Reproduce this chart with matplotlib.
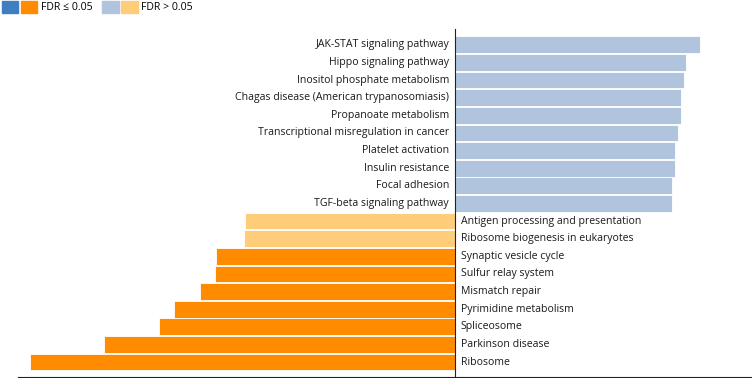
import matplotlib
matplotlib.use("Agg")
import matplotlib.pyplot as plt
from matplotlib.patches import Patch
from matplotlib.legend_handler import HandlerTuple

plt.rcParams['font.family'] = ['Open Sans', 'DejaVu Sans']

# pathways, top to bottom
pathways = [
    "JAK-STAT signaling pathway",
    "Hippo signaling pathway",
    "Inositol phosphate metabolism",
    "Chagas disease (American trypanosomiasis)",
    "Propanoate metabolism",
    "Transcriptional misregulation in cancer",
    "Platelet activation",
    "Insulin resistance",
    "Focal adhesion",
    "TGF-beta signaling pathway",
    "Antigen processing and presentation",
    "Ribosome biogenesis in eukaryotes",
    "Synaptic vesicle cycle",
    "Sulfur relay system",
    "Mismatch repair",
    "Pyrimidine metabolism",
    "Spliceosome",
    "Parkinson disease",
    "Ribosome",
]
scores = [1.68, 1.59, 1.57, 1.55, 1.55, 1.53, 1.51, 1.51, 1.49, 1.49,
          -1.44, -1.45, -1.64, -1.65, -1.75, -1.93, -2.03, -2.41, -2.92]
significant = [False] * 12 + [True] * 7

DARK_BLUE = "#3f7fbf"
ORANGE = "#ff8c00"
LIGHT_BLUE = "#b0c4de"
LIGHT_ORANGE = "#ffcc7a"

fig = plt.figure(figsize=(7.52, 3.78), dpi=100)
ax = fig.add_axes([18 / 752, 1 / 378, 734 / 752, 348 / 378])

n = len(pathways)
ypos = [n - 1 - i for i in range(n)]
colors = []
for s, sig in zip(scores, significant):
    if s >= 0:
        colors.append(DARK_BLUE if sig else LIGHT_BLUE)
    else:
        colors.append(ORANGE if sig else LIGHT_ORANGE)

ax.barh(ypos, scores, height=0.95, color=colors, edgecolor="white", linewidth=0.6)

for y, s, name in zip(ypos, scores, pathways):
    if s >= 0:
        ax.text(-0.04, y, name, ha="right", va="center", fontsize=7.6, color="#1a1a1a")
    else:
        ax.text(0.04, y, name, ha="left", va="center", fontsize=7.6, color="#1a1a1a")

ax.set_xlim(-2.99, 2.04)
ax.set_ylim(-0.85, n - 0.1)
ax.set_xticks([-3 + 0.5 * k for k in range(11)])
ax.set_xticklabels([])
ax.tick_params(axis="x", direction="out", length=4, width=0.8, color="#222222")
ax.set_yticks([])
ax.spines["top"].set_visible(False)
ax.spines["right"].set_visible(False)
ax.spines["left"].set_position(("data", 0))
ax.spines["left"].set_color("#222222")
ax.spines["bottom"].set_color("#222222")

handles = [(Patch(color=DARK_BLUE), Patch(color=ORANGE)),
           (Patch(color=LIGHT_BLUE), Patch(color=LIGHT_ORANGE))]
fig.legend(handles, ["FDR ≤ 0.05", "FDR > 0.05"], ncol=2, frameon=False,
           loc="center left", bbox_to_anchor=(-0.005, 1 - 7 / 378),
           handler_map={tuple: HandlerTuple(ndivide=None, pad=0.2)},
           handlelength=3.4, handleheight=1.4, handletextpad=0.3, columnspacing=0.9,
           fontsize=7.6, borderpad=0)

fig.savefig("out.png", dpi=100)
